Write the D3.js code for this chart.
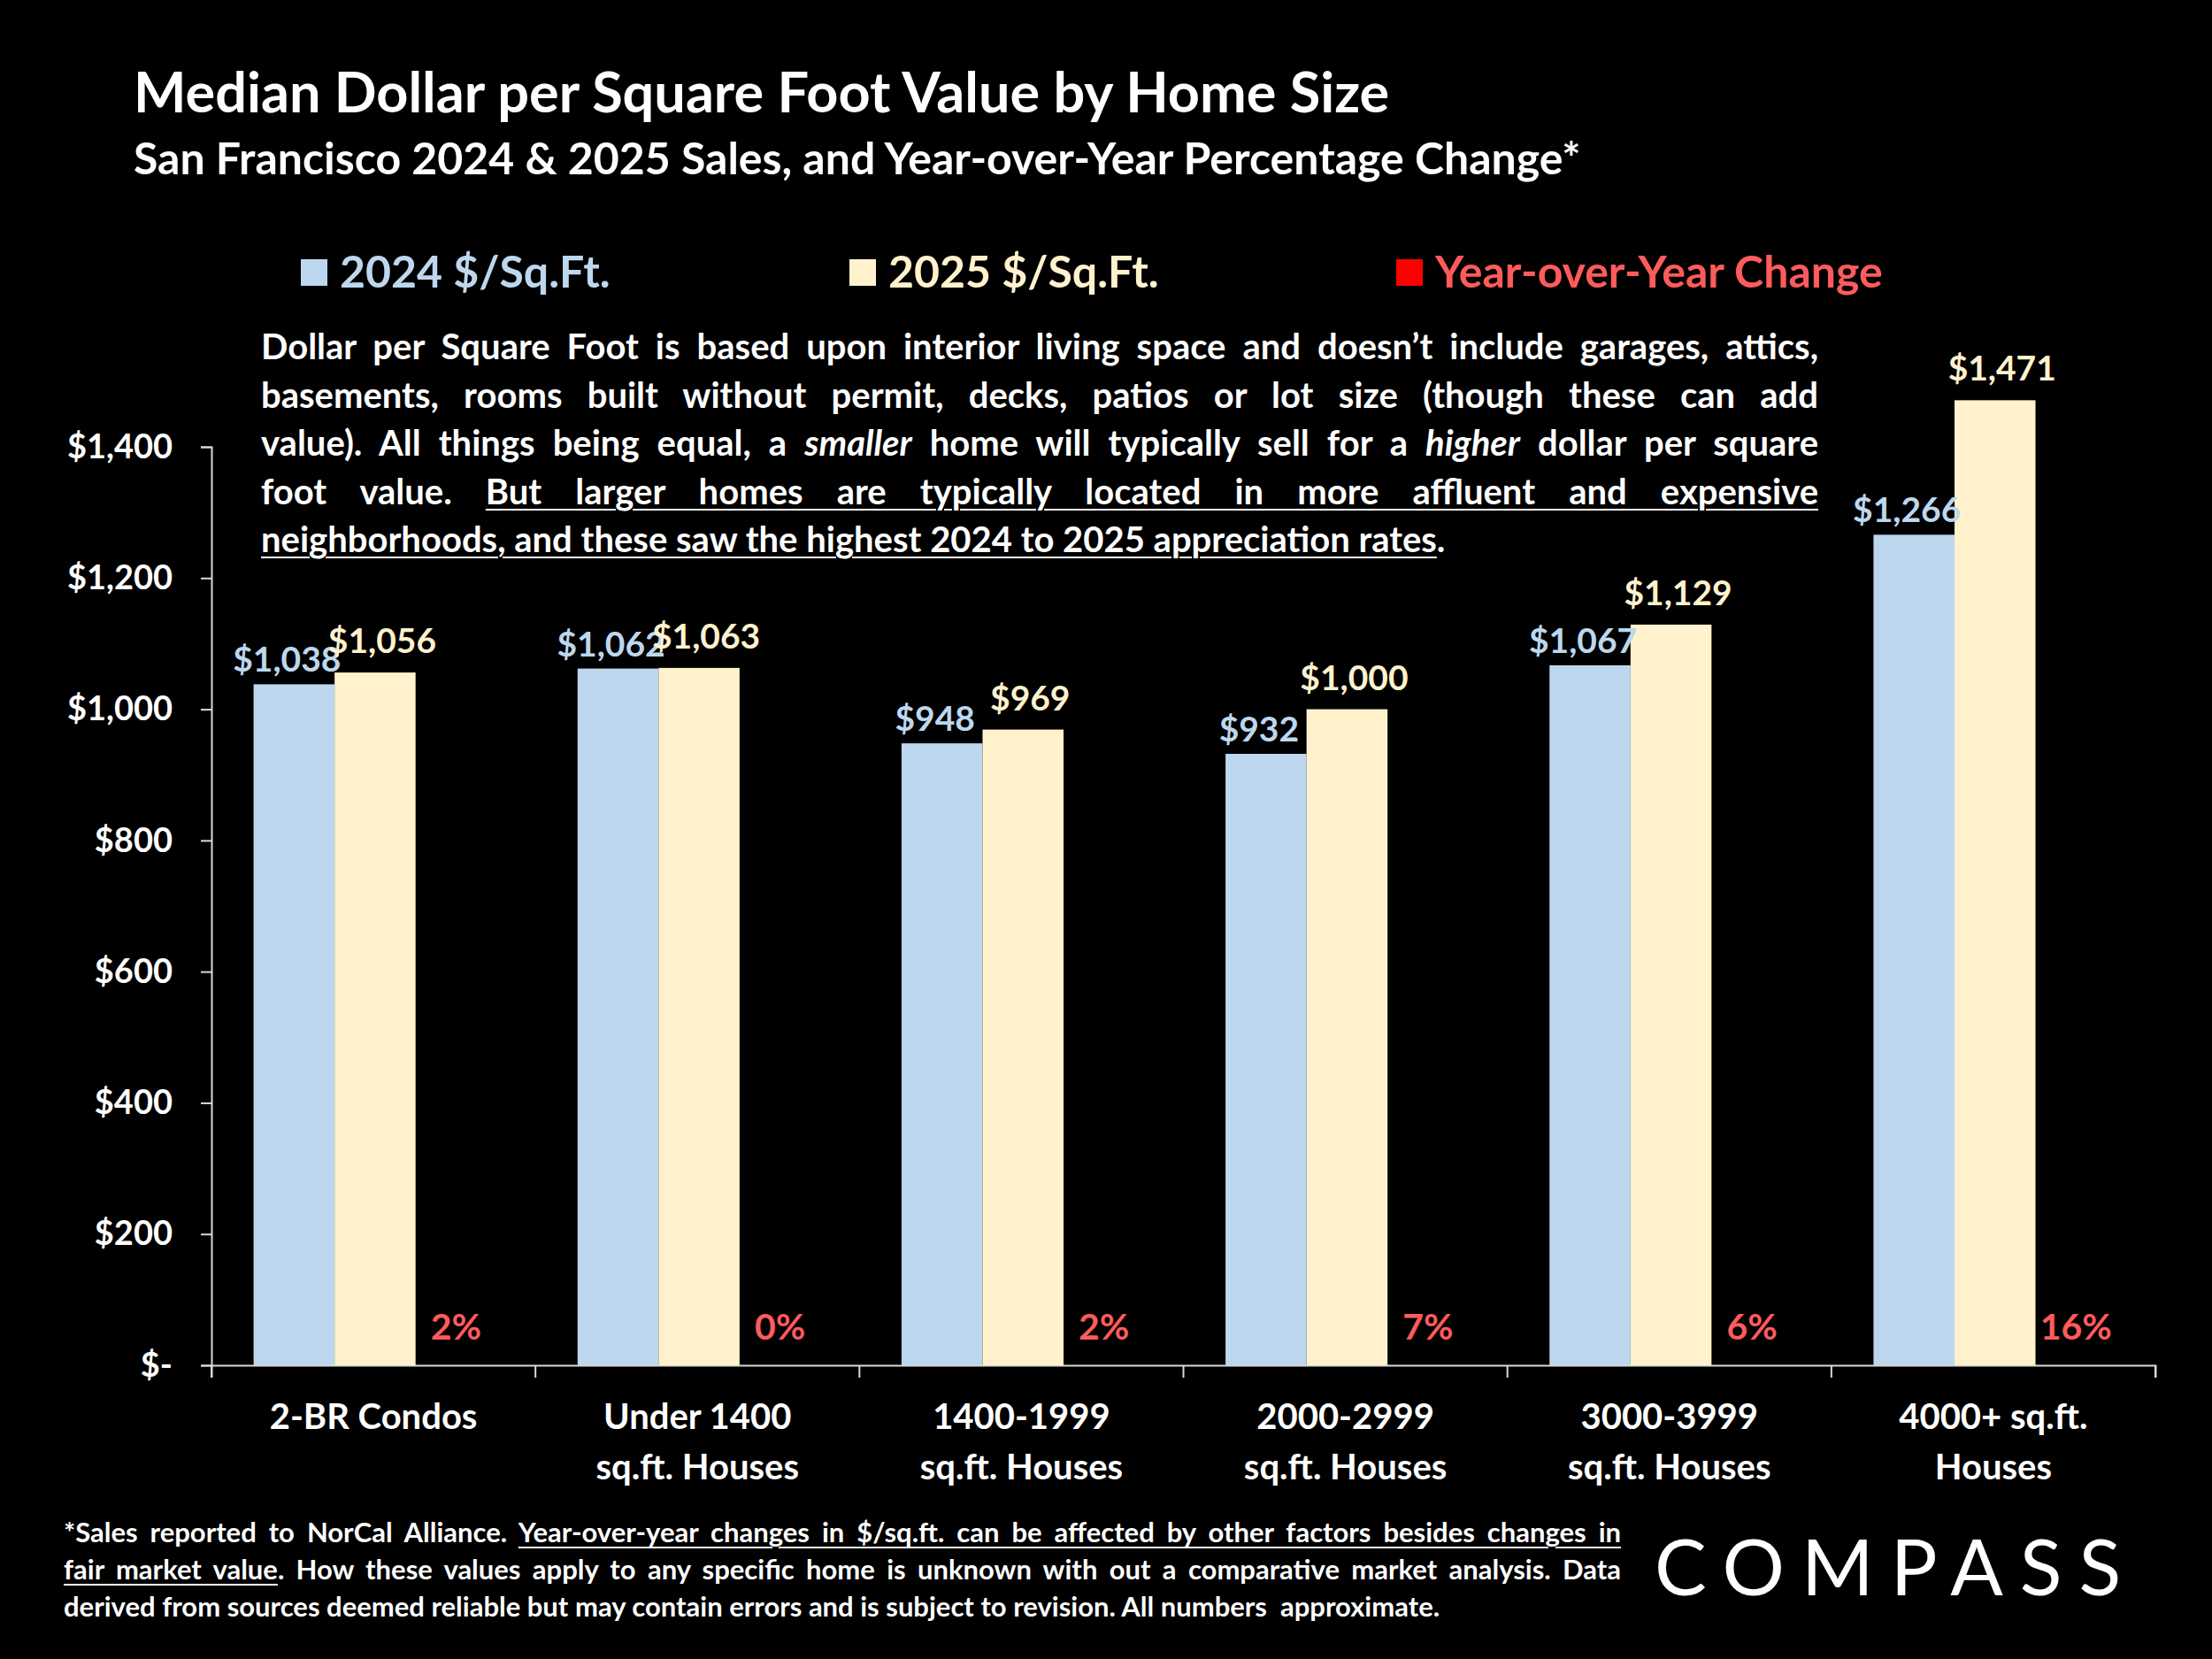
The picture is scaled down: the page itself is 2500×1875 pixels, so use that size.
<!DOCTYPE html>
<html><head><meta charset="utf-8">
<script src="https://cdn.jsdelivr.net/npm/d3@7"></script>
<style>
body{margin:0;background:#000;width:2500px;height:1875px;overflow:hidden;font-family:Lato,"Open Sans",sans-serif;}
.note{position:absolute;color:#fff;font-weight:bold;}
.note span{display:block;text-align:justify;text-align-last:justify;white-space:nowrap;}
.note span.last{text-align-last:left;}
.note u{text-decoration-thickness:2px;text-underline-offset:5px;}
</style></head><body>
<div class="note" style="left:295px;top:364px;width:1760px;font-size:40px;line-height:54.5px;">
<span>Dollar per Square Foot is based upon interior living space and doesn’t include garages, attics,</span>
<span>basements, rooms built without permit, decks, patios or lot size (though these can add</span>
<span>value). All things being equal, a <i>smaller</i> home will typically sell for a <i>higher</i> dollar per square</span>
<span>foot value. <u>But larger homes are typically located in more affluent and expensive</u></span>
<span class="last"><u>neighborhoods, and these saw the highest 2024 to 2025 appreciation rates</u>.</span>
</div>
<div class="note" style="left:72px;top:1710px;width:1760px;font-size:31px;line-height:42px;">
<span>*Sales reported to NorCal Alliance. <u>Year-over-year changes in $/sq.ft. can be affected by other factors besides changes in</u></span>
<span><u>fair market value</u>. How these values apply to any specific home is unknown with out a comparative market analysis. Data</span>
<span class="last">derived from sources deemed reliable but may contain errors and is subject to revision. All numbers&nbsp; approximate.</span>
</div>
<script>
var categories = [["2-BR Condos"], ["Under 1400", "sq.ft. Houses"], ["1400-1999", "sq.ft. Houses"], ["2000-2999", "sq.ft. Houses"], ["3000-3999", "sq.ft. Houses"], ["4000+ sq.ft.", "Houses"]];
var values2024 = [1038, 1062, 948, 932, 1067, 1266];
var values2025 = [1056, 1063, 969, 1000, 1129, 1471];
var yoyChange = ["2%", "0%", "2%", "7%", "6%", "16%"];
var yTicks = [0, 200, 400, 600, 800, 1000, 1200, 1400];

var svg = d3.select("body").insert("svg", ":first-child")
    .attr("width", 2500).attr("height", 1875)
    .style("position", "absolute").style("left", 0).style("top", 0);

svg.append("text").attr("x", 151).attr("y", 127).attr("fill", "#fff")
    .attr("font-size", 63).attr("font-weight", "bold").text("Median Dollar per Square Foot Value by Home Size");
svg.append("text").attr("x", 151).attr("y", 197).attr("fill", "#fff")
    .attr("font-size", 50).attr("font-weight", "bold").text("San Francisco 2024 & 2025 Sales, and Year-over-Year Percentage Change*");

var legend = [["2024 $/Sq.Ft.", "#BDD7EE", "#BDD7EE", 340], ["2025 $/Sq.Ft.", "#FFF2CC", "#FFF2CC", 960], ["Year-over-Year Change", "#FF0000", "#FF5B5B", 1578]];
legend.forEach(function (l) {
    svg.append("rect").attr("x", l[3]).attr("y", 293).attr("width", 30).attr("height", 30).attr("fill", l[1]);
    svg.append("text").attr("x", l[3] + 44).attr("y", 325).attr("fill", l[2])
        .attr("font-size", 50).attr("font-weight", "bold").text(l[0]);
});

var left = 239, right = 2436, bottom = 1543;
var y = d3.scaleLinear().domain([0, 1400]).range([bottom, 505]);
var x = d3.scaleBand().domain(d3.range(6)).range([left, right]);
var inner = d3.scaleBand().domain([0, 1, 2]).range([0.13 * x.bandwidth(), 0.88 * x.bandwidth()]);

var yAxis = svg.append("g").attr("transform", "translate(" + left + ",0)")
    .call(d3.axisLeft(y).tickValues(yTicks).tickSize(12)
        .tickFormat(function (d) { return d == 0 ? "$-" : "$" + d3.format(",")(d); }));
yAxis.select(".domain").attr("stroke", "#d9d9d9").attr("stroke-width", 2);
yAxis.selectAll("line").attr("stroke", "#d9d9d9").attr("stroke-width", 2);
yAxis.selectAll("text").attr("fill", "#fff").attr("font-size", 38).attr("font-weight", "bold")
    .attr("font-family", "Lato").attr("x", -44);

var xAxis = svg.append("g").attr("transform", "translate(0," + bottom + ")")
    .call(d3.axisBottom(x).tickSize(14).tickFormat(""));
xAxis.select(".domain").attr("stroke", "#d9d9d9").attr("stroke-width", 2);
xAxis.selectAll("line").attr("stroke", "#d9d9d9").attr("stroke-width", 2)
    .attr("transform", function (d) { return "translate(" + (-x.bandwidth() / 2) + ",0)"; });
xAxis.append("line").attr("x1", right).attr("x2", right).attr("y1", 0).attr("y2", 14)
    .attr("stroke", "#d9d9d9").attr("stroke-width", 2);

var g = svg.selectAll("g.grp").data(d3.range(6)).enter().append("g")
    .attr("transform", function (i) { return "translate(" + x(i) + ",0)"; });

g.append("rect").attr("x", inner(0)).attr("width", inner.bandwidth())
    .attr("y", function (i) { return y(values2024[i]); })
    .attr("height", function (i) { return bottom - y(values2024[i]); }).attr("fill", "#BDD7EE");
g.append("rect").attr("x", inner(1)).attr("width", inner.bandwidth())
    .attr("y", function (i) { return y(values2025[i]); })
    .attr("height", function (i) { return bottom - y(values2025[i]); }).attr("fill", "#FFF2CC");

g.append("text").attr("x", inner(0) + inner.bandwidth() / 2 - 8).attr("text-anchor", "middle")
    .attr("y", function (i) { return y(values2024[i]) - 14; })
    .attr("fill", "#BDD7EE").attr("font-size", 39).attr("font-weight", "bold")
    .text(function (i) { return "$" + d3.format(",")(values2024[i]); });
g.append("text").attr("x", inner(1) + inner.bandwidth() / 2 + 8).attr("text-anchor", "middle")
    .attr("y", function (i) { return y(values2025[i]) - 22; })
    .attr("fill", "#FFF2CC").attr("font-size", 39).attr("font-weight", "bold")
    .text(function (i) { return "$" + d3.format(",")(values2025[i]); });
g.append("text").attr("x", inner(2) + inner.bandwidth() / 2).attr("text-anchor", "middle")
    .attr("y", bottom - 29).attr("fill", "#FF5B5B").attr("font-size", 41).attr("font-weight", "bold")
    .text(function (i) { return yoyChange[i]; });

g.each(function (i) {
    var t = d3.select(this).append("text").attr("text-anchor", "middle").attr("fill", "#fff")
        .attr("font-size", 40).attr("font-weight", "bold");
    categories[i].forEach(function (s, k) {
        t.append("tspan").attr("x", x.bandwidth() / 2).attr("y", 1615 + k * 57).text(s);
    });
});

svg.append("text").attr("x", 1870).attr("y", 1803).attr("fill", "#fff")
    .attr("font-size", 88).attr("font-weight", 400).attr("letter-spacing", 19)
    .attr("font-family", "Lato").text("COMPASS");
</script>
</body></html>
